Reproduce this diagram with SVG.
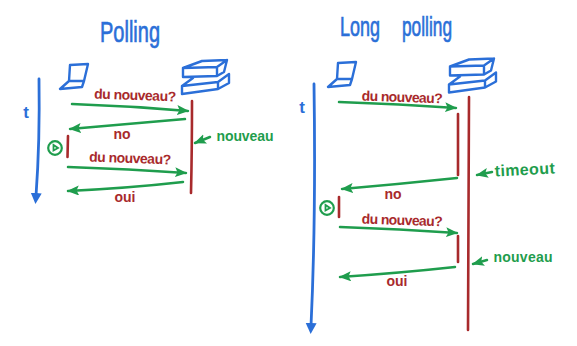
<svg xmlns="http://www.w3.org/2000/svg" width="577" height="346" viewBox="0 0 577 346">
<style>
text{font-family:"Liberation Sans",Arial,sans-serif;font-weight:bold}
.b,.r,.g{fill:none;stroke-linecap:round;stroke-linejoin:round}
.b{stroke:#2b6fd8;stroke-width:2.4}
.axis{fill:none;stroke:#2b6fd8;stroke-width:2.8;stroke-linecap:round}
.r{stroke:#a82a2c;stroke-width:2.6}
.g{stroke:#1f9d4d;stroke-width:2.5}
.tb{fill:#2b6fd8}.tr{fill:#a82a2c}.tg{fill:#1f9d4d}
.ttl{font-weight:normal;stroke:#2b6fd8;stroke-width:.7;lengthAdjust:spacingAndGlyphs}
.lab{font-size:14px;text-anchor:middle}
.clk{fill:none;stroke:#1f9d4d;stroke-width:2.2}
</style>
<defs>
<marker id="ga" markerWidth="13" markerHeight="11" refX="11" refY="5" orient="auto" markerUnits="userSpaceOnUse"><path d="M0 0L12 5L0 10L2.500 5Z" fill="#1f9d4d"/></marker>
<marker id="ba" markerWidth="12" markerHeight="15" refX="3" refY="6" orient="auto" markerUnits="userSpaceOnUse"><path d="M0 0.500L11 6L0 11.500Z" fill="#2b6fd8"/></marker>
<g id="lap"><path class="b" d="M70 65L88 64L84 81L69 81ZM69 81L60 89L82 87L84 81"/></g>
<g id="srv"><path class="b" d="M183 68L202 61L227 60L217 67L183 68L183 77L217 76L217 67M217 76L224 72L227 60M182 86L218 82L218 89L182 94ZM218 89L229 83L229 74L218 82M182 86L193 78"/></g>
<g id="clock"><circle class="clk" r="6.800"/><path d="M-1.500 -3L-1.500 2.500L3 0Z" fill="none" stroke="#1f9d4d" stroke-width="1.800"/></g>
</defs>

<g id="title-polling"><text x="100" y="42" class="tb ttl" font-size="30" textLength="60" lengthAdjust="spacingAndGlyphs">Polling</text></g>
<g id="title-long"><text x="340" y="36" class="tb ttl" font-size="28" textLength="40" lengthAdjust="spacingAndGlyphs">Long</text><text x="402" y="36" class="tb ttl" font-size="28" textLength="50" lengthAdjust="spacingAndGlyphs">polling</text></g>

<g id="time-left"><path class="axis" d="M39 79Q40 140 36 196" marker-end="url(#ba)"/><text x="26" y="118" class="tb" font-size="17" font-weight="normal" text-anchor="middle">t</text></g>
<g id="client-left"><use href="#lap"/></g>
<g id="server-left"><use href="#srv"/></g>
<g id="clock-left"><use href="#clock" x="55" y="148"/></g>
<g id="time-right"><path class="axis" d="M314 84Q316 220 311 326" marker-end="url(#ba)"/><text x="302" y="113" class="tb" font-size="17" font-weight="normal" text-anchor="middle">t</text></g>
<g id="client-right"><use href="#lap" transform="translate(268,-2)"/></g>
<g id="server-right"><use href="#srv" transform="translate(267,-1.5)"/></g>
<g id="clock-right"><use href="#clock" x="327" y="208"/></g>

<g id="connectors">
<path class="r" d="M192 101Q192 150 191 193"/>
<path class="r" d="M68 136L67.500 157"/>
<path class="r" d="M469 97Q468 220 468 330"/>
<path class="r" d="M458 114Q458 150 458 175"/>
<path class="r" d="M339 197L339 217"/>
<path class="r" d="M458 236L458 262"/>
<path class="g" marker-end="url(#ga)" d="M72 104Q130 106 188 111"/>
<path class="g" marker-end="url(#ga)" d="M185 119Q130 124 70 129"/>
<path class="g" marker-end="url(#ga)" d="M68 167Q130 169 186 173"/>
<path class="g" marker-end="url(#ga)" d="M183 182Q130 188 68 191"/>
<path class="g" marker-end="url(#ga)" d="M210 137L195 143"/>
<path class="g" marker-end="url(#ga)" d="M339 102Q400 104 456 108"/>
<path class="g" marker-end="url(#ga)" d="M457 178Q400 184 342 189"/>
<path class="g" marker-end="url(#ga)" d="M340 227Q400 229 457 233"/>
<path class="g" marker-end="url(#ga)" d="M455 267Q400 273 340 277"/>
<path class="g" marker-end="url(#ga)" d="M492 172L477 175"/>
<path class="g" marker-end="url(#ga)" d="M487 260L473 264"/>
</g>

<g id="labels">
<text class="lab tr" x="135" y="100" textLength="82" transform="rotate(2 135 100)">du nouveau?</text>
<text class="lab tr" x="122" y="139">no</text>
<text class="lab tr" x="130" y="163" textLength="82" transform="rotate(2 130 163)">du nouveau?</text>
<text class="lab tr" x="125" y="202">oui</text>
<text class="lab tg" x="245" y="141" textLength="57">nouveau</text>
<text class="lab tr" x="402" y="102" textLength="81" transform="rotate(2 402 102)">du nouveau?</text>
<text class="lab tr" x="393" y="199">no</text>
<text class="lab tr" x="402" y="225" textLength="81" transform="rotate(2 402 225)">du nouveau?</text>
<text class="lab tr" x="397" y="286">oui</text>
<text class="tg" x="525" y="175" font-size="16" text-anchor="middle" textLength="60" transform="rotate(-3 525 175)">timeout</text>
<text class="lab tg" x="523" y="262" textLength="59">nouveau</text>
</g>
</svg>
